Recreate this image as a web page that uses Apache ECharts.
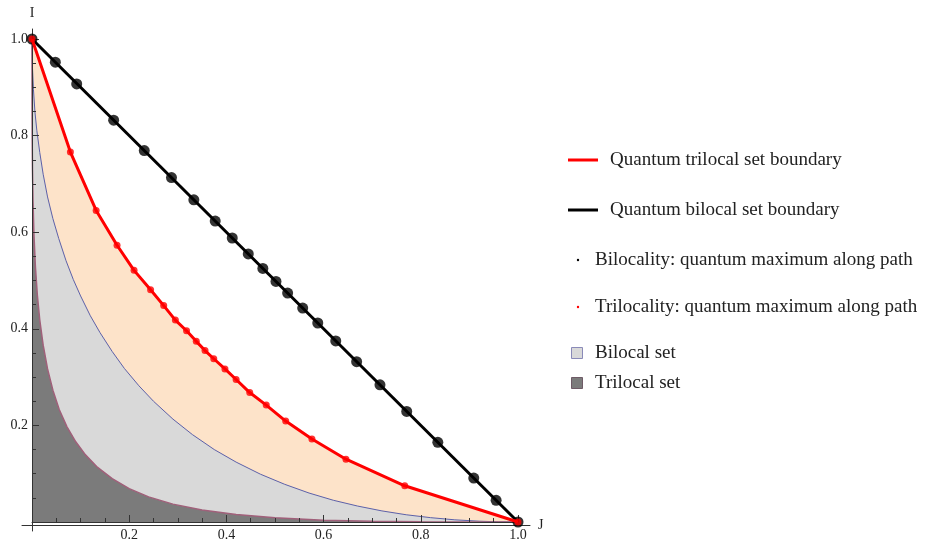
<!DOCTYPE html>
<html>
<head>
<meta charset="utf-8">
<title>Quantum bilocal and trilocal sets</title>
<script src="https://cdn.jsdelivr.net/npm/echarts@6/dist/echarts.min.js"></script>
<style>
  html, body { margin: 0; padding: 0; background: #fff; }
  #chart { width: 932px; height: 542px; }
</style>
</head>
<body>
<div id="chart"></div>
<script>
// Numerical maxima of the bilocality functional along the sampled paths (J, I)
const bilocalMaxima = [
  [0, 1], [0.048, 0.952], [0.092, 0.907], [0.168, 0.832], [0.231, 0.769],
  [0.287, 0.713], [0.333, 0.667], [0.377, 0.623], [0.412, 0.588], [0.445, 0.555],
  [0.475, 0.525], [0.502, 0.498], [0.526, 0.474], [0.557, 0.443], [0.588, 0.412],
  [0.625, 0.375], [0.668, 0.332], [0.716, 0.284], [0.771, 0.229], [0.835, 0.165],
  [0.909, 0.091], [0.955, 0.045], [1, 0]
];

// Quantum bilocal boundary: straight segment between the two corners
const bilocalBoundary = [[0, 1], [1, 0]];

// Numerical maxima of the trilocality functional along the sampled paths (J, I)
const trilocalMaxima = [
  [0, 1], [0.079, 0.766], [0.132, 0.645], [0.175, 0.573], [0.210, 0.521],
  [0.244, 0.481], [0.271, 0.448], [0.295, 0.418], [0.318, 0.396], [0.338, 0.374],
  [0.356, 0.355], [0.374, 0.338], [0.397, 0.317], [0.420, 0.295], [0.448, 0.268],
  [0.482, 0.242], [0.522, 0.209], [0.576, 0.172], [0.646, 0.130], [0.767, 0.075],
  [1, 0]
];

// Edge of the bilocal (classical) set
const bilocalSetEdge = [
  [0, 1], [0.001, 0.94], [0.003, 0.895], [0.006, 0.85], [0.01, 0.81],
  [0.016, 0.765], [0.023, 0.72], [0.032, 0.673], [0.043, 0.628], [0.055, 0.587],
  [0.07, 0.541], [0.085, 0.502], [0.1, 0.468], [0.12, 0.427], [0.14, 0.392],
  [0.165, 0.353], [0.19, 0.318], [0.22, 0.282], [0.25, 0.25], [0.29, 0.213],
  [0.33, 0.181], [0.375, 0.15], [0.42, 0.124], [0.47, 0.099], [0.52, 0.078],
  [0.57, 0.06], [0.62, 0.045], [0.67, 0.033], [0.72, 0.023], [0.77, 0.015],
  [0.82, 0.009], [0.87, 0.0045], [0.92, 0.0017], [0.96, 0.0004], [1, 0]
];

// Edge of the trilocal (classical) set
const trilocalSetEdge = [
  [0, 1], [0.0001, 0.867], [0.0004, 0.795], [0.001, 0.729], [0.002, 0.668],
  [0.004, 0.595], [0.007, 0.529], [0.011, 0.47], [0.016, 0.418], [0.023, 0.366],
  [0.032, 0.317], [0.043, 0.273], [0.056, 0.233], [0.072, 0.197], [0.09, 0.166],
  [0.11, 0.139], [0.135, 0.113], [0.165, 0.09], [0.2, 0.069], [0.24, 0.052],
  [0.29, 0.037], [0.35, 0.025], [0.42, 0.0155], [0.5, 0.0087], [0.6, 0.0038],
  [0.7, 0.0014], [0.8, 0.0004], [0.9, 0.00004], [1, 0]
];

const tickValues = [0.2, 0.4, 0.6, 0.8, 1.0];

const SERIF = '"Liberation Serif", "DejaVu Serif", serif';
const COL = {
  red: '#ff0000',
  black: '#000000',
  peach: '#fde3c9',
  lightGray: '#d9d9d9',
  darkGray: '#7b7b7b',
  blueEdge: '#5c60a8',
  maroonEdge: '#a0607a',
  axis: '#333333',
  text: '#222222'
};

const chart = echarts.init(document.getElementById('chart'), null, { renderer: 'canvas' });

const labelFmt = v => (v > 0 && tickValues.indexOf(Math.round(v * 10) / 10) >= 0) ? v.toFixed(1) : '';

const mainAxisCommon = {
  type: 'value',
  min: 0,
  max: 1,
  interval: 0.2,
  z: 10,
  axisLine: { show: true, onZero: true, lineStyle: { color: COL.axis, width: 1 } },
  axisTick: { show: true, inside: true, length: 7, lineStyle: { color: COL.axis, width: 1 } },
  minorTick: { show: true, splitNumber: 4, length: 4, lineStyle: { color: COL.axis, width: 1 } },
  splitLine: { show: false },
  minorSplitLine: { show: false },
  axisLabel: {
    formatter: labelFmt,
    fontFamily: SERIF,
    fontSize: 14,
    color: COL.text
  }
};

// Legend drawn at the right-hand side
const legendX = 568;
const legendRows = [
  { y: 160, kind: 'line', color: COL.red, text: 'Quantum trilocal set boundary' },
  { y: 210, kind: 'line', color: COL.black, text: 'Quantum bilocal set boundary' },
  { y: 260, kind: 'dot', color: COL.black, text: 'Bilocality: quantum maximum along path' },
  { y: 307, kind: 'dot', color: COL.red, text: 'Trilocality: quantum maximum along path' },
  { y: 353, kind: 'box', color: COL.lightGray, border: '#8a8ab8', text: 'Bilocal set' },
  { y: 383, kind: 'box', color: COL.darkGray, border: '#6e5a66', text: 'Trilocal set' }
];

const legendGraphics = [];
legendRows.forEach(r => {
  let textX;
  if (r.kind === 'line') {
    legendGraphics.push({
      type: 'line',
      shape: { x1: legendX, y1: r.y, x2: legendX + 30, y2: r.y },
      style: { stroke: r.color, lineWidth: 3 }
    });
    textX = 610;
  } else if (r.kind === 'dot') {
    legendGraphics.push({
      type: 'circle',
      shape: { cx: legendX + 10, cy: r.y, r: 1.2 },
      style: { fill: r.color }
    });
    textX = 595;
  } else {
    legendGraphics.push({
      type: 'rect',
      shape: { x: legendX + 3.5, y: r.y - 5.5, width: 11, height: 11 },
      style: { fill: r.color, stroke: r.border, lineWidth: 1 }
    });
    textX = 595;
  }
  legendGraphics.push({
    type: 'text',
    x: textX,
    y: r.y,
    style: {
      text: r.text,
      font: '19px ' + SERIF,
      fill: COL.text,
      verticalAlign: 'middle',
      align: 'left'
    }
  });
});

const outerAxisCommon = {
  type: 'value',
  gridIndex: 1,
  z: 10,
  axisLine: { show: true, onZero: true, lineStyle: { color: COL.axis, width: 1 } },
  axisTick: { show: false },
  axisLabel: { show: false },
  splitLine: { show: false },
  nameLocation: 'end',
  nameTextStyle: { fontFamily: SERIF, fontSize: 14, color: COL.text }
};

const option = {
  animation: false,
  backgroundColor: '#ffffff',
  grid: [
    { left: 32, top: 39, width: 486, height: 486 },
    { left: 22, top: 29, width: 508, height: 502 }
  ],
  xAxis: [
    Object.assign({}, mainAxisCommon, {
      gridIndex: 0,
      axisLabel: Object.assign({}, mainAxisCommon.axisLabel, { margin: 6 })
    }),
    Object.assign({}, outerAxisCommon, {
      min: -10 / 486,
      max: 1 + 12 / 486,
      name: 'J',
      nameGap: 8
    })
  ],
  yAxis: [
    Object.assign({}, mainAxisCommon, {
      gridIndex: 0,
      axisLabel: Object.assign({}, mainAxisCommon.axisLabel, { margin: 4 })
    }),
    Object.assign({}, outerAxisCommon, {
      min: -6 / 486,
      max: 1 + 10 / 486,
      name: 'I',
      nameGap: 9
    })
  ],
  graphic: legendGraphics,
  series: [
    {
      // Quantum trilocal region (filled under its boundary)
      name: 'quantumTrilocalRegion',
      type: 'line',
      xAxisIndex: 0, yAxisIndex: 0,
      data: trilocalMaxima,
      showSymbol: false,
      lineStyle: { width: 0, opacity: 0 },
      areaStyle: { color: COL.peach, opacity: 1 },
      silent: true,
      z: 1
    },
    {
      name: 'Bilocal set',
      type: 'line',
      xAxisIndex: 0, yAxisIndex: 0,
      data: bilocalSetEdge,
      showSymbol: false,
      lineStyle: { color: COL.blueEdge, width: 1 },
      areaStyle: { color: COL.lightGray, opacity: 1 },
      z: 2
    },
    {
      name: 'Trilocal set',
      type: 'line',
      xAxisIndex: 0, yAxisIndex: 0,
      data: trilocalSetEdge,
      showSymbol: false,
      lineStyle: { color: COL.maroonEdge, width: 1.5 },
      areaStyle: { color: COL.darkGray, opacity: 1 },
      z: 3
    },
    {
      name: 'Quantum bilocal set boundary',
      type: 'line',
      xAxisIndex: 0, yAxisIndex: 0,
      data: bilocalBoundary,
      showSymbol: false,
      lineStyle: { color: COL.black, width: 3 },
      z: 11
    },
    {
      name: 'Bilocality: quantum maximum along path',
      type: 'scatter',
      xAxisIndex: 0, yAxisIndex: 0,
      data: bilocalMaxima,
      symbol: 'circle',
      symbolSize: 11,
      itemStyle: { color: COL.black },
      z: 12
    },
    {
      name: 'Quantum trilocal set boundary',
      type: 'line',
      xAxisIndex: 0, yAxisIndex: 0,
      data: trilocalMaxima,
      showSymbol: false,
      lineStyle: { color: COL.red, width: 3 },
      z: 13
    },
    {
      name: 'Trilocality: quantum maximum along path',
      type: 'scatter',
      xAxisIndex: 0, yAxisIndex: 0,
      data: trilocalMaxima,
      symbol: 'circle',
      symbolSize: 7,
      itemStyle: { color: COL.red },
      z: 14
    }
  ]
};

chart.setOption(option);
</script>
</body>
</html>
